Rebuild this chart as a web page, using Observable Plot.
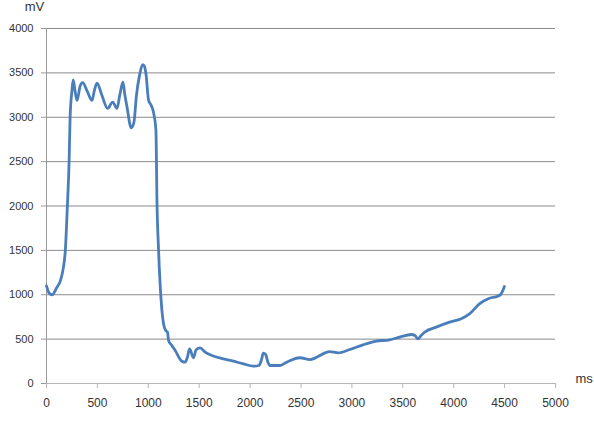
<!DOCTYPE html>
<html>
<head>
<meta charset="utf-8">
<script src="https://cdn.jsdelivr.net/npm/d3@7"></script>
<script src="https://cdn.jsdelivr.net/npm/@observablehq/plot@0.6"></script>
<style>
  html, body { margin: 0; padding: 0; background: #fff; }
  #chart { width: 594px; height: 425px; overflow: hidden; }
  svg { display: block; }
</style>
</head>
<body>
<div id="chart"></div>
<script>
const timeMs = [0, 25, 56, 100, 137, 165, 185, 205, 222, 232, 250, 262, 280, 300, 330, 356, 398, 447, 470, 496, 545, 600, 650, 692, 720, 751, 770, 790, 833, 860, 882, 915, 944, 960, 977, 1003, 1026, 1052, 1075, 1085, 1101, 1124, 1150, 1170, 1189, 1199, 1230, 1264, 1330, 1362, 1385, 1405, 1444, 1470, 1509, 1558, 1624, 1738, 1836, 1934, 2032, 2087, 2110, 2130, 2153, 2175, 2195, 2293, 2359, 2489, 2587, 2783, 2865, 2979, 3110, 3240, 3371, 3469, 3584, 3620, 3649, 3680, 3714, 3829, 3959, 4074, 4155, 4253, 4351, 4433, 4466, 4498];
const voltageMv = [1100, 1020, 1000, 1080, 1160, 1300, 1500, 2000, 2500, 3000, 3300, 3420, 3300, 3190, 3350, 3390, 3300, 3190, 3300, 3385, 3245, 3100, 3170, 3100, 3250, 3395, 3250, 3120, 2880, 2950, 3230, 3480, 3594, 3580, 3490, 3190, 3140, 3050, 2850, 2060, 1500, 970, 670, 600, 578, 485, 430, 372, 251, 240, 300, 390, 290, 380, 401, 353, 316, 278, 251, 221, 195, 203, 260, 341, 327, 240, 203, 203, 240, 290, 270, 360, 345, 383, 436, 477, 492, 522, 552, 540, 503, 540, 578, 635, 691, 729, 784, 897, 961, 984, 1010, 1093];
const xTicks = [0, 500, 1000, 1500, 2000, 2500, 3000, 3500, 4000, 4500, 5000];
const yTicks = [0, 500, 1000, 1500, 2000, 2500, 3000, 3500, 4000];
const xUnit = "ms";
const yUnit = "mV";

const data = timeMs.map((t, i) => ({t, v: voltageMv[i]}));
const plain = d => String(d);

const chart = Plot.plot({
  width: 594,
  height: 425,
  marginLeft: 46,
  marginRight: 39,
  marginTop: 28,
  marginBottom: 42,
  style: {fontFamily: "'Liberation Sans', Arial, sans-serif", fontSize: "11px", color: "#333", background: "#fff", overflow: "visible"},
  x: {domain: [0, 5000]},
  y: {domain: [0, 4000]},
  marks: [
    Plot.ruleY(yTicks.filter(d => d > 0), {stroke: "#8a8a8a", strokeWidth: 1, strokeOpacity: 1}),
    Plot.ruleY([0], {stroke: "#b5b5b5", strokeWidth: 1}),
    Plot.ruleX([0], {stroke: "#9a9a9a", strokeWidth: 1}),
    Plot.axisY({ticks: yTicks, tickFormat: plain, tickSize: 5, tickPadding: 8, label: null, stroke: "#9a9a9a", fill: "#333", letterSpacing: "0.6px"}),
    Plot.axisX({ticks: xTicks, tickFormat: plain, tickSize: 5, tickPadding: 10, label: null, stroke: "#b5b5b5", fill: "#333", letterSpacing: "0.6px", fontSize: 12}),
    Plot.line(data, {x: "t", y: "v", stroke: "#4a7ebb", strokeWidth: 2.8, curve: "monotone-x", strokeLinejoin: "round"}),
    Plot.text([yUnit], {frameAnchor: "top-left", text: d => d, dx: -12, dy: -27, lineAnchor: "top", textAnchor: "middle", fontSize: 13, fill: "#333"}),
    Plot.text([xUnit], {frameAnchor: "bottom-right", text: d => d, dx: 20, dy: -5, lineAnchor: "middle", textAnchor: "start", fontSize: 13, fill: "#333"})
  ]
});
document.getElementById("chart").appendChild(chart);
</script>
</body>
</html>
